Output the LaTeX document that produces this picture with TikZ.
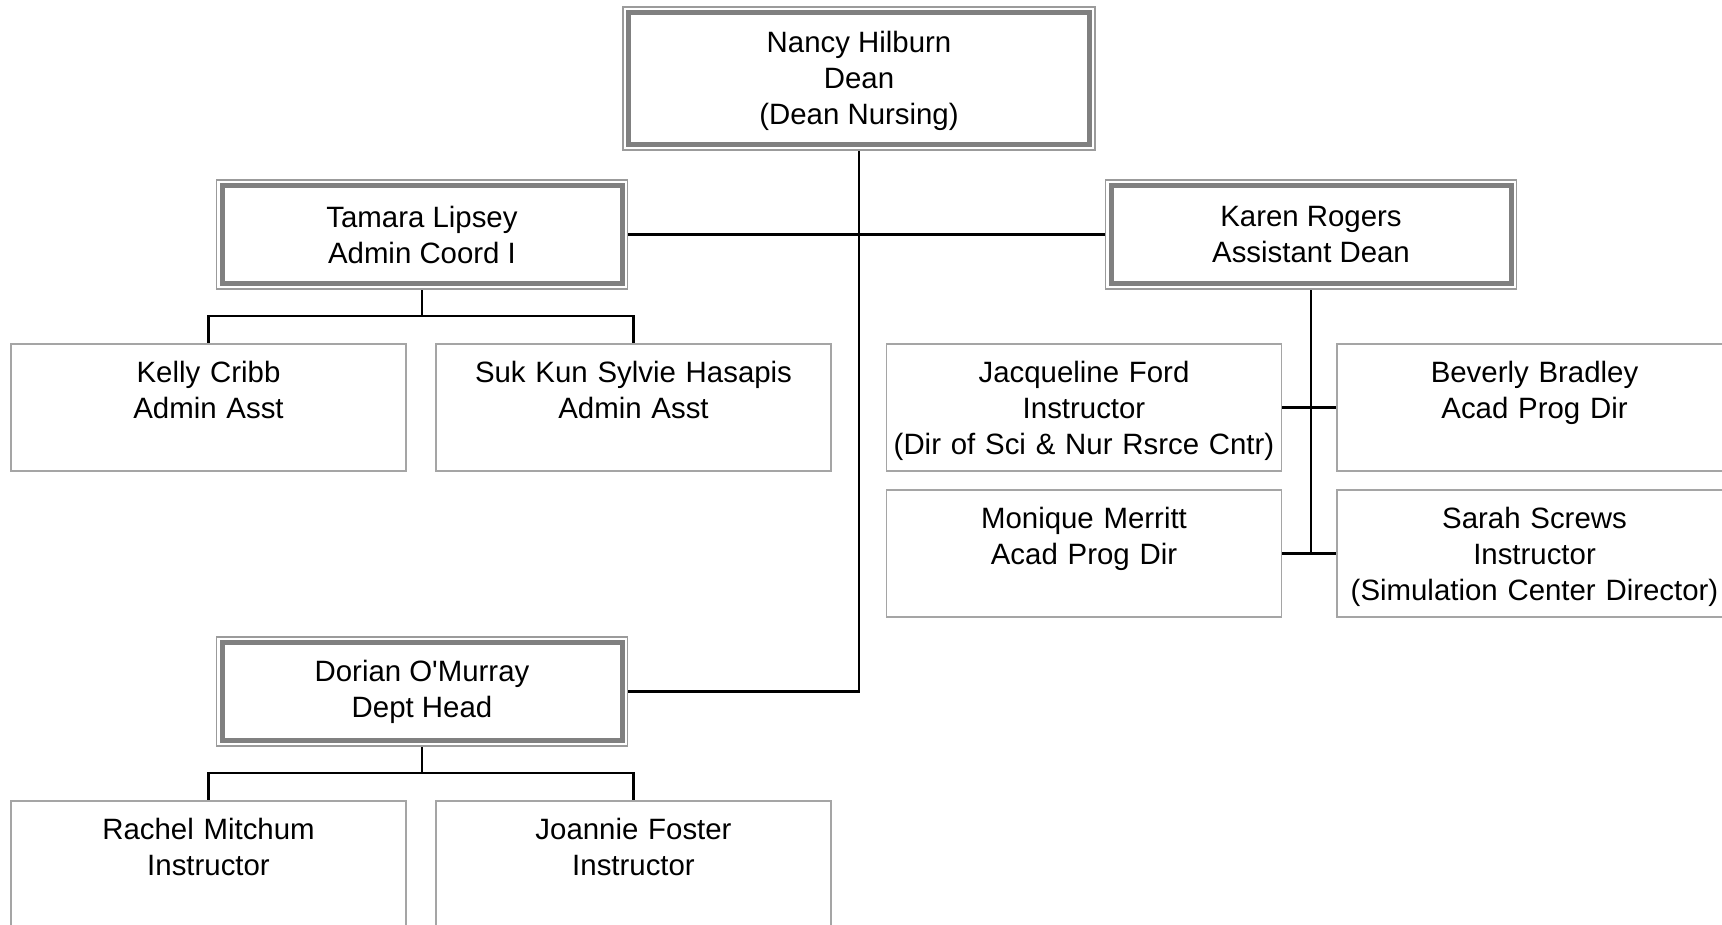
\documentclass[tikz,border=0pt]{standalone}
\usepackage{fontspec}
\setmainfont{Liberation Sans}
\usepackage{tikz}
\usetikzlibrary{positioning}
\usetikzlibrary{backgrounds}
\definecolor{HeadGray}{RGB}{128,128,128}
\definecolor{FrameGray}{RGB}{155,155,155}
\definecolor{BoxGray}{RGB}{165,165,165}
\tikzset{
	head/.style={draw=HeadGray, line width=2.5pt, fill=white, align=center,
		minimum width=200pt, minimum height=49pt, inner sep=0pt, outer sep=2.75pt},
	frame/.style={draw=FrameGray, line width=0.8pt},
	member/.style={draw=BoxGray, line width=0.75pt, fill=white, anchor=north,
		text width=197.5pt, align=center, text height=19.3pt, text depth=44.2pt,
		inner sep=0pt, outer sep=0pt},
	link/.style={draw=black, line width=1.25pt}
}
\begin{document}
\begin{tikzpicture}[x=0.5pt, y=-0.5pt, font=\fontsize{14.7}{18}\selectfont]
		\useasboundingbox (0,0) rectangle (1722,925);
		\node[head, minimum width=230.5pt, minimum height=66pt, text depth=1pt] (nancy) at (859,78.5)
		{Nancy Hilburn\\ Dean\\ (Dean Nursing)};
		\node[head] (tamara) at (422,234.5)
		{Tamara Lipsey\\ Admin Coord I};
		\node[head] (karen) at (1311,234.5)
		{Karen Rogers\\ Assistant Dean};
		\node[head] (dorian) at (422,691.5)
		{Dorian O\textquotesingle Murray\\ Dept Head};
		\foreach \n in {nancy,tamara,karen,dorian}
		\draw[frame] (\n.south west) rectangle (\n.north east);
		\node[member] (kelly) at (208.5,344)
		{Kelly Cribb\\ Admin Asst};
		\node[member] (sukkun) at (633.5,344)
		{Suk Kun Sylvie Hasapis\\ Admin Asst};
		\node[member] (jford) at (1084,344)
		{Jacqueline Ford\\ Instructor\\ (Dir of Sci \& Nur Rsrce Cntr)};
		\node[member] (bbradley) at (1534.5,344)
		{Beverly Bradley\\ Acad Prog Dir};
		\node[member] (mmerritt) at (1084,490)
		{Monique Merritt\\ Acad Prog Dir};
		\node[member] (sscrews) at (1534.5,490)
		{Sarah Screws\\ Instructor\\ (Simulation Center Director)};
		\node[member] (rmitchum) at (208.5,801)
		{Rachel Mitchum\\ Instructor};
		\node[member] (jfoster) at (633.5,801)
		{Joannie Foster\\ Instructor};
		\coordinate (tbus) at (422,316);
		\coordinate (dbus) at (422,773);
		\begin{pgfonlayer}{background}
			\draw[link] (nancy) |- (dorian);
			\draw[link] (tamara) -- (karen);
			\draw[link] (tamara) -- (tbus);
			\draw[link] (kelly) |- (tbus) -| (sukkun);
			\draw[link] (karen) -- (karen |- mmerritt);
			\draw[link] (jford) -- (bbradley);
			\draw[link] (mmerritt) -- (sscrews);
			\draw[link] (dorian) -- (dbus);
			\draw[link] (rmitchum) |- (dbus) -| (jfoster);
		\end{pgfonlayer}
	\end{tikzpicture}
\end{document}
